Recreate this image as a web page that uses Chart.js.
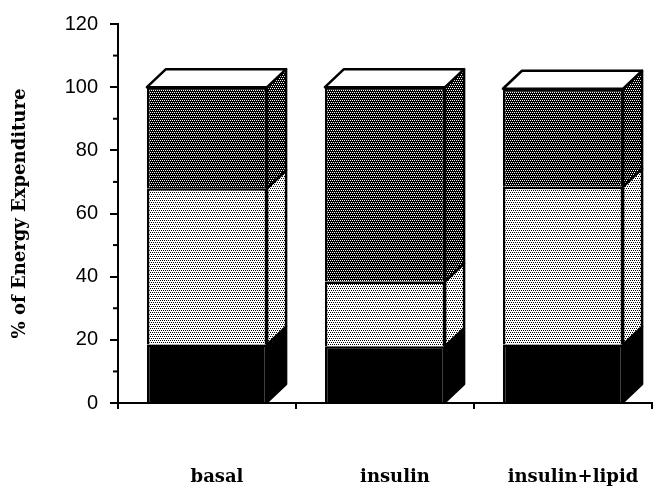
<!DOCTYPE html>
<html lang="en">
<head>
    <meta charset="UTF-8">
    <title>% of Energy Expenditure</title>
    <script src="https://cdn.jsdelivr.net/npm/chart.js"></script>
    <style>
        body { margin: 0; background: #fff; }
    </style>
</head>
<body>
<canvas id="energyChart" width="657" height="491"></canvas>

<script>
    // values (% of energy expenditure)
    const categories = ['basal', 'insulin', 'insulin+lipid'];
    const bottomSeg = [18.5, 18, 18.5];   // solid black
    const middleSeg = [49.5, 20.5, 50];   // light stipple
    const topSeg = [32, 61.5, 31];        // dark stipple
    const yTicks = [0, 20, 40, 60, 80, 100, 120];

    // small halftone tiles for the stipple fills
    function makePattern(bg, fg, dots) {
        const c = document.createElement('canvas');
        c.width = 4; c.height = 4;
        const g = c.getContext('2d');
        g.fillStyle = bg;
        g.fillRect(0, 0, 4, 4);
        g.fillStyle = fg;
        dots.forEach(d => g.fillRect(d[0], d[1], 1, 1));
        return g.createPattern(c, 'repeat');
    }
    const ctx = document.getElementById('energyChart').getContext('2d');
    const stagger = [[0, 0], [2, 0], [1, 2], [3, 2]];
    const darkFill = makePattern('#000', '#fff', stagger);
    const lightFill = makePattern('#fff', '#000', stagger);

    // depth of the fake 3D blocks
    const dx = 19, dy = 18;

    const blocks3d = {
        id: 'blocks3d',
        afterDatasetsDraw(chart) {
            const c = chart.ctx;
            const last = chart.data.datasets.length - 1;
            c.save();
            c.lineWidth = 2.5;
            c.lineJoin = 'round';
            c.strokeStyle = '#000';
            chart.data.datasets.forEach((ds, i) => {
                chart.getDatasetMeta(i).data.forEach(bar => {
                    const p = bar.getProps(['x', 'y', 'base', 'width'], true);
                    const l = p.x - p.width / 2, r = p.x + p.width / 2;
                    const t = Math.min(p.y, p.base), b = Math.max(p.y, p.base);
                    // right side face
                    c.beginPath();
                    c.moveTo(r, t);
                    c.lineTo(r + dx, t - dy);
                    c.lineTo(r + dx, b - dy);
                    c.lineTo(r, b);
                    c.closePath();
                    c.fillStyle = ds.backgroundColor;
                    c.fill();
                    c.stroke();
                    // top face on the highest block
                    if (i === last) {
                        c.beginPath();
                        c.moveTo(l, t);
                        c.lineTo(l + dx, t - dy);
                        c.lineTo(r + dx, t - dy);
                        c.lineTo(r, t);
                        c.closePath();
                        c.fillStyle = '#fff';
                        c.fill();
                        c.stroke();
                    }
                });
            });
            c.restore();
        },
        afterDraw(chart) {
            // short minor ticks at the odd tens
            const y = chart.scales.y;
            const c = chart.ctx;
            c.save();
            c.strokeStyle = '#000';
            c.lineWidth = 2;
            for (let i = 0; i < yTicks.length - 1; i++) {
                const py = y.getPixelForValue((yTicks[i] + yTicks[i + 1]) / 2);
                c.beginPath();
                c.moveTo(y.right - 5, py);
                c.lineTo(y.right, py);
                c.stroke();
            }
            c.restore();
        }
    };

    new Chart(ctx, {
        type: 'bar',
        data: {
            labels: categories,
            datasets: [
                { label: 'bottom', data: bottomSeg, backgroundColor: '#000' },
                { label: 'middle', data: middleSeg, backgroundColor: lightFill },
                { label: 'top', data: topSeg, backgroundColor: darkFill }
            ].map(d => Object.assign(d, {
                borderColor: '#000',
                borderWidth: 2.5,
                categoryPercentage: 1,
                barPercentage: 0.675
            }))
        },
        options: {
            responsive: false,
            animation: false,
            layout: { padding: { top: 16, right: 5, bottom: 0, left: 0 } },
            plugins: {
                legend: { display: false },
                tooltip: { enabled: false }
            },
            scales: {
                x: {
                    stacked: true,
                    border: { display: true, color: '#000', width: 2 },
                    grid: { drawOnChartArea: false, color: '#000', lineWidth: 2, tickLength: 6, offset: true },
                    ticks: {
                        color: '#000',
                        font: { family: 'DejaVu Serif', size: 18, weight: 'bold' },
                        padding: 58,
                        labelOffset: 10,
                        maxRotation: 0
                    },
                    afterFit: s => {
                        s.height = 88;
                        s.paddingLeft = 0;
                        s.paddingRight = 0;
                    }
                },
                y: {
                    stacked: true,
                    min: 0,
                    max: 120,
                    border: { display: true, color: '#000', width: 2 },
                    grid: { drawOnChartArea: false, color: '#000', lineWidth: 2, tickLength: 8 },
                    ticks: {
                        stepSize: 20,
                        color: '#000',
                        font: { family: 'Liberation Sans', size: 20 },
                        padding: 12
                    },
                    title: {
                        display: true,
                        text: '% of Energy Expenditure',
                        color: '#000',
                        font: { family: 'DejaVu Serif', size: 18, weight: 'bold' },
                        padding: { top: 10, bottom: 0 }
                    },
                    afterFit: s => { s.width = 118; }
                }
            }
        },
        plugins: [blocks3d]
    });
</script>
</body>
</html>
